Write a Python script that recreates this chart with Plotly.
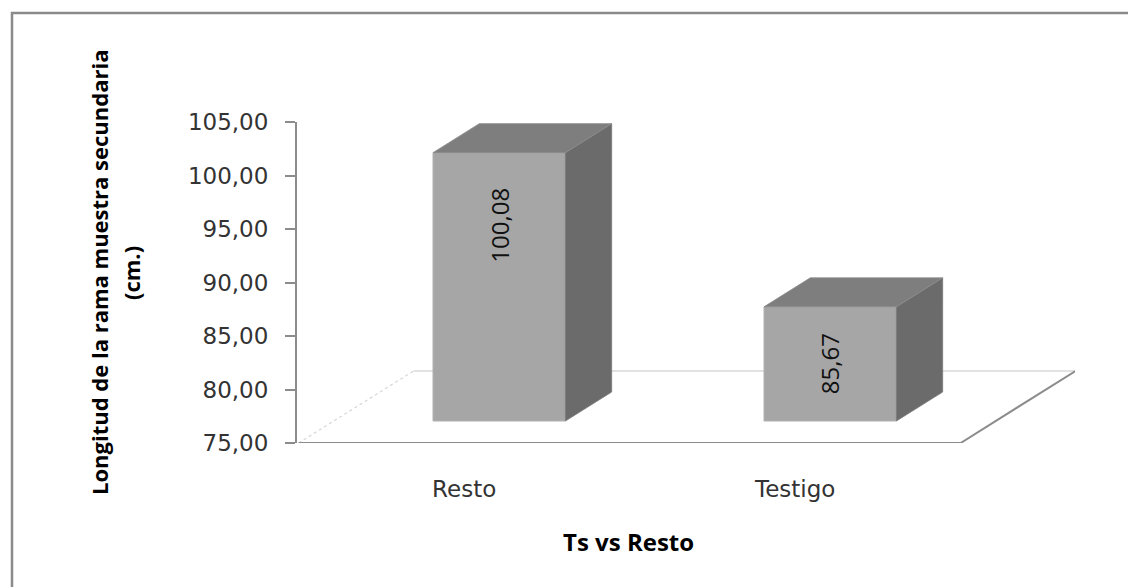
import plotly.graph_objects as go

# ---- data ----
categories = ["Resto", "Testigo"]
values = [100.08, 85.67]
value_labels = ["100,08", "85,67"]
y_ticks = [75, 80, 85, 90, 95, 100, 105]
y_title_lines = ["Longitud de la rama muestra secundaria", "(cm.)"]
x_title = "Ts vs Resto"

# ---- 3D styling parameters (pseudo perspective) ----
Y0 = 75.0                # floor value
FLOOR_DX = 0.347         # x shift of the full floor depth (category units)
FLOOR_DY = 6.73          # y shift of the full floor depth (value units)
BAR_FRONT = 0.305        # depth fraction of bar front face
BAR_DEPTH = 0.403        # depth fraction of bar thickness
BAR_W = 0.40

FRONT_C = "#A6A6A6"
TOP_C = "#7E7E7E"
SIDE_C = "#6B6B6B"
AXIS_C = "#8C8C8C"

# page frame (body has 8px default margin)
OFF = 8
W, H = 1136, 587
PL, PT = 297, 122          # plot area left/top in page pixels
pw, ph = 778, 321
L, T = PL - OFF, PT - OFF
R, B = W - L - pw, H - T - ph

def px2paper(x, y):
    return (x - PL) / pw, (PT + ph - y) / ph

fig = go.Figure()

n = len(categories)
x_left, x_right = -0.5, n - 0.5

# floor back edge (light) and left edge (faint dotted), drawn below traces
fig.add_shape(type="line", xref="x", yref="y",
              x0=x_left + FLOOR_DX, x1=x_right + FLOOR_DX, y0=Y0 + FLOOR_DY, y1=Y0 + FLOOR_DY,
              line=dict(color="#D9D9D9", width=1.5), layer="below")
fig.add_shape(type="line", xref="x", yref="y",
              x0=x_left, x1=x_left + FLOOR_DX, y0=Y0, y1=Y0 + FLOOR_DY,
              line=dict(color="#D6D6D6", width=1.2, dash="dot"), layer="below")

fdx, fdy = BAR_FRONT * FLOOR_DX, BAR_FRONT * FLOOR_DY
ddx, ddy = BAR_DEPTH * FLOOR_DX, BAR_DEPTH * FLOOR_DY
xs = [i + fdx for i in range(n)]

# front faces
fig.add_trace(go.Bar(
    x=xs, y=[v - Y0 for v in values], base=Y0 + fdy, width=BAR_W,
    marker=dict(color=FRONT_C, line=dict(color="#B4B4B4", width=1)),
    hoverinfo="skip", showlegend=False))

# side and top faces
for i, v in enumerate(values):
    xl, xr = xs[i] - BAR_W / 2, xs[i] + BAR_W / 2
    yb, yt = Y0 + fdy, v + fdy
    fig.add_trace(go.Scatter(
        x=[xr, xr + ddx, xr + ddx, xr, xr],
        y=[yb, yb + ddy, yt + ddy, yt, yb],
        mode="lines", fill="toself", fillcolor=SIDE_C,
        line=dict(color="#7A7A7A", width=0.8),
        hoverinfo="skip", showlegend=False))
    fig.add_trace(go.Scatter(
        x=[xl, xr, xr + ddx, xl + ddx, xl],
        y=[yt, yt, yt + ddy, yt + ddy, yt],
        mode="lines", fill="toself", fillcolor=TOP_C,
        line=dict(color="#8A8A8A", width=0.8),
        hoverinfo="skip", showlegend=False))

# floor front and right edges
fig.add_trace(go.Scatter(
    x=[x_left, x_right, x_right + FLOOR_DX], y=[Y0, Y0, Y0 + FLOOR_DY],
    mode="lines", line=dict(color=AXIS_C, width=2),
    hoverinfo="skip", showlegend=False, cliponaxis=False))

# value labels (rotated)
for i, v in enumerate(values):
    yb, yt = Y0 + fdy, v + fdy
    ylab = max((yb + yt) / 2, yt - 6.8)
    fig.add_annotation(x=xs[i], y=ylab, text=value_labels[i], textangle=-90,
                       showarrow=False, xanchor="center", yanchor="middle",
                       font=dict(family="Open Sans", size=24, color="#111111"))

# y-axis title (two lines)
for line_text, cx in zip(y_title_lines, [99, 131]):
    ax, ay = px2paper(cx, 273)
    fig.add_annotation(xref="paper", yref="paper", x=ax, y=ay, text="<b>" + line_text + "</b>",
                       textangle=-90, showarrow=False,
                       xanchor="center", yanchor="middle",
                       font=dict(family="Open Sans", size=22, color="#000000"))
# x-axis title
tx, ty = px2paper(628, 541)
fig.add_annotation(xref="paper", yref="paper", x=tx, y=ty, text="<b>" + x_title + "</b>",
                   showarrow=False, xanchor="center", yanchor="middle",
                   font=dict(family="Open Sans", size=24, color="#000000"))

# outer border (left/top visible)
bx0, by1 = px2paper(12, 13)
fig.add_shape(type="rect", xref="paper", yref="paper", x0=bx0, y0=-2, x1=3, y1=by1,
              line=dict(color="#8A8A8A", width=2.5), layer="below")

fig.update_layout(
    width=W, height=H, margin=dict(l=L, r=R, t=T, b=B, pad=0),
    paper_bgcolor="white", plot_bgcolor="white",
    separators=",.",
    showlegend=False,
    xaxis=dict(range=[x_left - 0.005, x_left - 0.005 + pw / 331.0], showgrid=False, zeroline=False,
               showline=False, tickvals=list(range(n)), ticktext=categories, ticks="",
               ticklabelstandoff=30,
               tickfont=dict(family="DejaVu Sans", size=23, color="#333333")),
    yaxis=dict(range=[75, 105], tickvals=y_ticks, tickformat=".2f", showgrid=False,
               zeroline=False, showline=True, linecolor=AXIS_C, linewidth=2,
               ticks="outside", ticklen=10, tickwidth=2, tickcolor=AXIS_C,
               ticklabelstandoff=12,
               tickfont=dict(family="DejaVu Sans", size=23, color="#333333")),
)

fig.write_html("out.html")
